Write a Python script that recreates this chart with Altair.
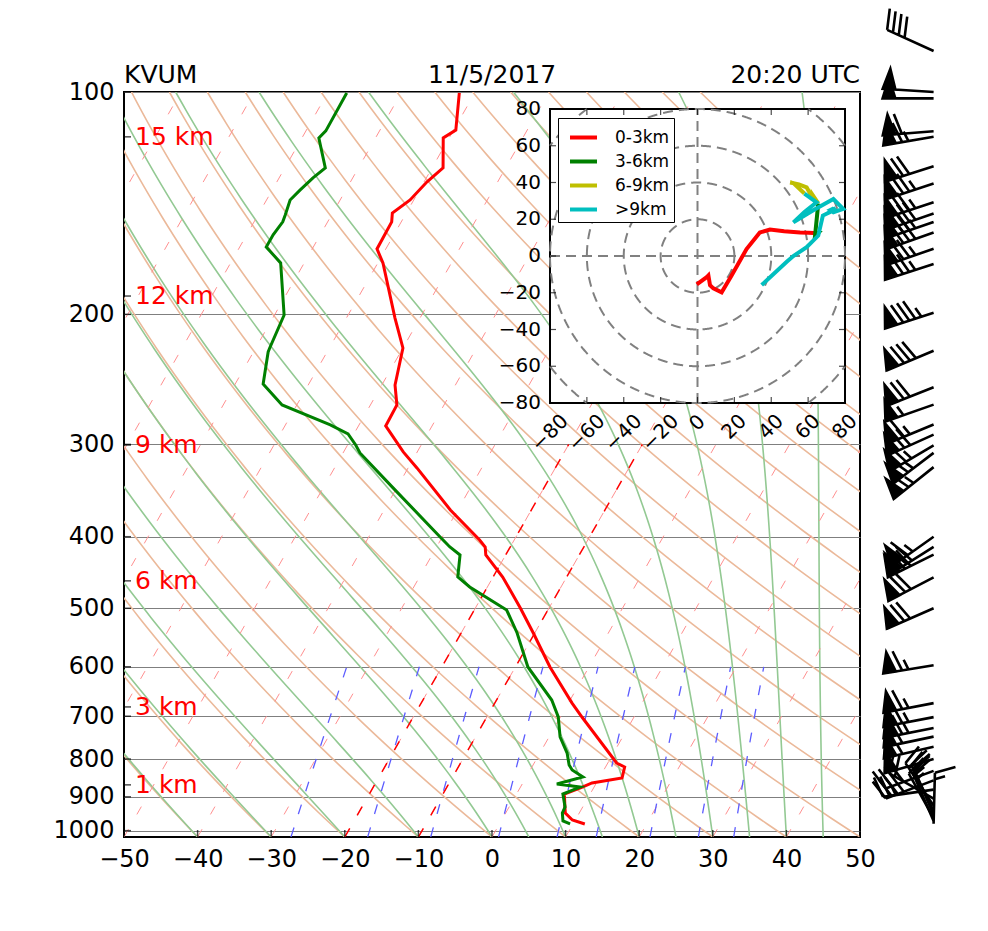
import math
import numpy as np
import pandas as pd
import altair as alt

# ---------------- data ----------------
STATION = "KVUM"
DATE = "11/5/2017"
TIME = "20:20 UTC"

# temperature profile (hPa, degC)
T_P = [979.4, 967.4, 946.5, 926.0, 892.0, 872.9, 861.9, 848.7, 820.1, 809.9, 703.9, 671.9,
       600.4, 540.0, 499.5, 453.5, 423.4, 413.0, 404.1, 368.0, 322.8, 307.1, 283.2, 265.3,
       249.3, 222.1, 202.3, 170.4, 163.1, 149.9, 145.8, 140.0, 132.3, 126.7, 115.4, 112.6, 100.3]
T_C = [11.6, 9.6, 8.1, 7.5, 6.5, 8.4, 9.4, 13.1, 12.6, 11.2, 3.1, 0.5,
       -5.3, -10.2, -13.9, -18.7, -22.7, -23.4, -24.7, -31.0, -38.8, -41.9, -46.3, -46.4,
       -48.2, -50.0, -53.4, -59.3, -61.2, -61.3, -61.9, -60.5, -59.6, -58.5, -60.8, -59.7, -62.1]

# dewpoint profile (hPa, degC)
TD_P = [979.4, 970.3, 946.5, 929.0, 892.0, 872.9, 864.6, 846.0, 827.8, 815.0, 785.1, 746.8,
        701.6, 665.5, 600.4, 540.0, 502.7, 467.9, 453.5, 423.4, 413.0, 400.3, 343.5, 308.1,
        300.5, 290.3, 282.3, 265.3, 248.5, 224.9, 222.1, 200.4, 170.4, 162.1, 156.1, 149.9,
        146.7, 140.0, 135.7, 130.7, 126.7, 115.4, 112.9, 100.3]
TD_C = [9.6, 8.4, 7.7, 7.6, 6.3, 8.1, 4.7, 7.7, 5.7, 4.9, 3.7, 1.5,
        -0.3, -2.5, -8.3, -12.4, -15.6, -22.4, -24.8, -26.2, -28.2, -30.3, -40.5, -47.7,
        -48.9, -50.8, -53.9, -62.0, -66.2, -68.0, -68.1, -68.7, -73.2, -76.4, -76.4, -76.1,
        -76.3, -76.8, -76.2, -75.4, -74.5, -77.7, -77.3, -77.4]

# winds (hPa, u knots, v knots)
WIND_P = [979, 970, 962, 952, 940, 925, 905, 880, 855, 830, 800, 770, 746, 726, 702, 672,
          597, 500, 454, 423, 413, 400, 322, 308, 301, 291, 282, 265, 251, 224, 199, 171,
          163, 155, 150, 146, 141, 133, 126, 115, 113, 102, 100, 88]
WIND_U = [-0.4, 5.0, 5.9, 6.8, 8.6, 13.1, 18.5, 26.6, 33.8, 39.3, 47.0, 55.6, 60.0, 63.0, 65.0, 65.5,
          63.7, 65.5, 62.7, 62.8, 59.2, 55.0, 50.2, 52.0, 58.0, 64.6, 58.0, 52.0, 63.0, 73.7, 79.0, 73.7,
          72.0, 74.0, 73.0, 75.0, 72.0, 70.0, 68.0, 65.5, 59.2, 52.0, 48.4, 34.8]
WIND_V = [-15.5, -11.5, -10.6, -15.9, -17.6, -19.8, -10.6, 3.8, 12.8, 14.4, 13.5, 12.8, 12.6, 12.5, 12.5, 12.5,
          10.5, 28.6, 32.8, 31.0, 37.3, 39.0, 40.0, 39.7, 34.0, 29.2, 24.0, 18.3, 25.0, 31.0, 25.6, 23.8,
          25.0, 26.0, 25.0, 26.0, 24.0, 23.0, 22.0, 11.1, 4.8, 0.0, -3.1, -15.8]

# height labels
KM_LABELS = ["1 km", "3 km", "6 km", "9 km", "12 km", "15 km"]
KM_P = [867.0, 680.0, 459.0, 300.5, 188.9, 115.0]

# hodograph layers
SEG_NAMES = ["0-3km", "3-6km", "6-9km", ">9km"]
SEG_COLORS = ["#ff0000", "#008000", "#bfbf00", "#00bfbf"]
SEG_BOUND_P = [680.0, 459.0, 300.5]

# axes / reference lines
P_TICKS = [100, 200, 300, 400, 500, 600, 700, 800, 900, 1000]
X_TICKS = [-50, -40, -30, -20, -10, 0, 10, 20, 30, 40, 50]
HODO_TICKS = [-80, -60, -40, -20, 0, 20, 40, 60, 80]
HODO_RINGS = [20, 40, 60, 80, 100]
DRY_T0 = list(range(-50, 201, 10))
MOIST_T0 = [-50, -40, -30, -20, -10, 0, 5, 10, 15, 20, 25, 30, 35, 40, 45]
ISO_T = list(range(-100, 51, 10))
HILITE_T = [-20, -10]
HILITE_TOP_P = 300.0
MIX_W = [0.0004, 0.001, 0.002, 0.004, 0.007, 0.01, 0.016, 0.024, 0.032]
MIX_TOP_P = 600.0

PB, PT = 1020.0, 100.0
SK = 100 * math.tan(math.radians(30))
SKEW_EXPR = f"datum.T + {SK:.4f} * log({PB} / datum.p) / log({PB / PT})"

# ---------------- reference-line generation ----------------
ps = np.geomspace(PB, PT, 120)

def dry_curve(t0):
    return (t0 + 273.15) * (ps / PB) ** 0.2857 - 273.15

def moist_curve(t0):
    Rd, Cp, Lv, eps = 287.04, 1005.7, 2.501e6, 0.622
    def f(T, lnp):
        p = math.exp(lnp)
        es = 6.112 * math.exp(17.67 * (T - 273.15) / (T - 29.65))
        rs = eps * es / (p - es)
        return (Rd * T + Lv * rs) / (Cp + Lv * Lv * rs * eps / (Rd * T * T))
    lnp = np.log(ps)
    T = t0 + 273.15
    out = [T]
    for i in range(len(ps) - 1):
        h = lnp[i + 1] - lnp[i]
        k1 = f(T, lnp[i])
        k2 = f(T + h * k1 / 2, lnp[i] + h / 2)
        k3 = f(T + h * k2 / 2, lnp[i] + h / 2)
        k4 = f(T + h * k3, lnp[i] + h)
        T = T + h * (k1 + 2 * k2 + 2 * k3 + k4) / 6
        out.append(T)
    return np.array(out) - 273.15

rows = []
for j, t0 in enumerate(DRY_T0):
    for i, (p, t) in enumerate(zip(ps, dry_curve(t0))):
        rows.append({"id": j, "i": i, "p": p, "T": t})
dry_df = pd.DataFrame(rows)

rows = []
for j, t0 in enumerate(MOIST_T0):
    for i, (p, t) in enumerate(zip(ps, moist_curve(t0))):
        rows.append({"id": j, "i": i, "p": p, "T": t})
moist_df = pd.DataFrame(rows)

iso_df = pd.DataFrame([{"id": j, "i": i, "p": p, "T": t}
                       for j, t in enumerate(ISO_T) for i, p in enumerate([PB, PT])])
hil_df = pd.DataFrame([{"id": j, "i": i, "p": p, "T": t}
                       for j, t in enumerate(HILITE_T) for i, p in enumerate([PB, HILITE_TOP_P])])

mps = np.geomspace(PB, MIX_TOP_P, 30)
rows = []
for j, w in enumerate(MIX_W):
    e = mps * w / (0.622 + w)
    le = np.log(e / 6.112)
    td = 243.5 * le / (17.67 - le)
    for i, (p, t) in enumerate(zip(mps, td)):
        rows.append({"id": j, "i": i, "p": p, "T": t})
mix_df = pd.DataFrame(rows)

t_df = pd.DataFrame({"p": T_P, "T": T_C, "i": range(len(T_P))})
td_df = pd.DataFrame({"p": TD_P, "T": TD_C, "i": range(len(TD_P))})

# ---------------- wind barbs ----------------
def barb_path(speed):
    s = int(5 * round(speed / 5.0))
    nf, rem = divmod(s, 50)
    nb, rem = divmod(rem, 10)
    half = rem >= 5
    L, sp, h, w = 1.0, 0.125, 0.4, 0.25
    parts = [f"M0,0L0,{-L:.4f}"]
    off = L
    for _ in range(nf):
        if off != L:
            off += sp / 2
        parts.append(f"M0,{-off:.4f}L{h:.4f},{-(off - w / 2):.4f}L0,{-(off - w):.4f}Z")
        off -= w + sp
    for _ in range(nb):
        parts.append(f"M0,{-off:.4f}L{h:.4f},{-(off + w / 2):.4f}")
        off -= sp
    if half:
        if off == L:
            off -= 1.5 * sp
        parts.append(f"M0,{-off:.4f}L{h / 2:.4f},{-(off + w / 4):.4f}")
    return "".join(parts)

wind_df = pd.DataFrame({"p": WIND_P, "u": WIND_U, "v": WIND_V})
wind_df["spd"] = np.hypot(wind_df.u, wind_df.v)
wind_df["dir"] = np.degrees(np.arctan2(-wind_df.u, -wind_df.v)) % 360
wind_df["glyph"] = wind_df.spd.map(barb_path)

# ---------------- hodograph data ----------------
def seg_of(p):
    for k, b in enumerate(SEG_BOUND_P):
        if p >= b:
            return k
    return len(SEG_BOUND_P)

segs = [seg_of(p) for p in WIND_P]
rows = []
for i, (u, v, k) in enumerate(zip(WIND_U, WIND_V, segs)):
    rows.append({"u": u, "v": v, "seg": SEG_NAMES[k], "o": float(i)})
    if i + 1 < len(segs) and segs[i + 1] != k:
        rows.append({"u": u, "v": v, "seg": SEG_NAMES[segs[i + 1]], "o": i + 0.5})
hodo_df = pd.DataFrame(rows)

rows = []
th = np.linspace(0, 2 * np.pi, 2881)
for r in HODO_RINGS:
    uu, vv = r * np.cos(th), r * np.sin(th)
    inside = (np.abs(uu) <= 80) & (np.abs(vv) <= 80)
    gid = np.cumsum(np.concatenate([[0], (inside[1:] != inside[:-1]).astype(int)]))
    for i in range(len(th)):
        if inside[i]:
            rows.append({"g": f"{r}_{gid[i]}", "u": uu[i], "v": vv[i], "i": i})
ring_df = pd.DataFrame(rows)

# ---------------- scales / axes ----------------
xsc = alt.Scale(domain=[-50, 50], nice=False, zero=False)
ysc = alt.Scale(type="log", domain=[PB, PT], nice=False)
xax = alt.Axis(values=X_TICKS, title=None, grid=False, ticks=False, tickSize=0, domain=False,
               labelFontSize=24, labelPadding=10, labelColor="black", format="d",
               labelOverlap=False, labelFlush=False)
yax = alt.Axis(values=P_TICKS, title=None, grid=True, gridColor="#7f7f7f", gridWidth=1,
               gridOpacity=1, ticks=False, tickSize=0, domain=False, labelFontSize=24,
               labelPadding=10, labelColor="black", format="d",
               labelOverlap=False, labelFlush=False)

def X(field=None, datum=None):
    if datum is not None:
        return alt.X(datum=datum, scale=xsc, axis=xax)
    return alt.X(field, type="quantitative", scale=xsc, axis=xax)

def Y(field=None, datum=None):
    if datum is not None:
        return alt.Y(datum=datum, scale=ysc, axis=yax)
    return alt.Y(field, type="quantitative", scale=ysc, axis=yax)

def skew_lines(df, color, width, dash=None):
    kw = dict(clip=True, color=color, strokeWidth=width)
    if dash:
        kw["strokeDash"] = dash
    return alt.Chart(df).transform_calculate(xs=SKEW_EXPR).mark_line(**kw).encode(
        x=X("xs"), y=Y("p"), detail="id:N", order="i:Q")

dry = skew_lines(dry_df, "#ebb99a", 1.6)
moist = skew_lines(moist_df, "#93c993", 1.6)
iso = skew_lines(iso_df, "#ff9090", 1.0, [9, 17])
hil = skew_lines(hil_df, "#ff0000", 1.5, [10, 15])
mix = skew_lines(mix_df, "#5c5cff", 1.3, [10, 14])

t_line = alt.Chart(t_df).transform_calculate(xs=SKEW_EXPR).mark_line(
    clip=True, color="#ff0000", strokeWidth=3).encode(x=X("xs"), y=Y("p"), order="i:Q")
td_line = alt.Chart(td_df).transform_calculate(xs=SKEW_EXPR).mark_line(
    clip=True, color="#008000", strokeWidth=3).encode(x=X("xs"), y=Y("p"), order="i:Q")

km_df = pd.DataFrame({"p": KM_P, "label": KM_LABELS})
km_text = alt.Chart(km_df).mark_text(align="left", baseline="middle", fontSize=25,
                                     color="#ff0000").encode(
    x=X(datum=-48.5), y=Y("p"), text="label:N")

lt_df = pd.DataFrame({"p": P_TICKS + KM_P})
left_ticks = alt.Chart(lt_df).mark_tick(orient="horizontal", size=7, thickness=1.5,
                                        xOffset=3.5, color="black").encode(
    x=X(datum=-50), y=Y("p"))
bt_df = pd.DataFrame({"T": X_TICKS})
bottom_ticks = alt.Chart(bt_df).mark_tick(orient="vertical", size=7, thickness=1.5,
                                          yOffset=-3.5, color="black").encode(
    x=X("T"), y=Y(datum=PB))

title_l = alt.Chart(pd.DataFrame({"t": [STATION]})).mark_text(
    align="left", baseline="alphabetic", dy=-9, fontSize=25, color="black").encode(
    x=X(datum=-50), y=Y(datum=PT), text="t:N")
title_c = alt.Chart(pd.DataFrame({"t": [DATE]})).mark_text(
    align="center", baseline="alphabetic", dy=-9, fontSize=25, color="black").encode(
    x=X(datum=0), y=Y(datum=PT), text="t:N")
title_r = alt.Chart(pd.DataFrame({"t": [TIME]})).mark_text(
    align="right", baseline="alphabetic", dy=-9, fontSize=25, color="black").encode(
    x=X(datum=50), y=Y(datum=PT), text="t:N")

barbs = alt.Chart(wind_df).mark_point(filled=True, size=10404, color="black", fill="black",
                                      stroke="black", strokeWidth=2.6, opacity=1).encode(
    x=X(datum=60), y=Y("p"),
    shape=alt.Shape("glyph:N", scale=None),
    angle=alt.Angle("dir:Q", scale=None))

main = alt.layer(dry, moist, iso, mix, hil, t_line, td_line, km_text, left_ticks,
                 bottom_ticks, title_l, title_c, title_r, barbs)

# ---------------- hodograph inset ----------------
hx = alt.Scale(domain=[-80, 80], range=[426, 721], nice=False, zero=False)
hy = alt.Scale(domain=[-80, 80], range=[311, 17], nice=False, zero=False)

def HX(field=None, datum=None):
    if datum is not None:
        return alt.X(datum=datum, scale=hx, axis=None)
    return alt.X(field, type="quantitative", scale=hx, axis=None)

def HY(field=None, datum=None):
    if datum is not None:
        return alt.Y(datum=datum, scale=hy, axis=None)
    return alt.Y(field, type="quantitative", scale=hy, axis=None)

frame = alt.Chart(pd.DataFrame({"a": [0]})).mark_rect(
    fill="white", stroke="black", strokeWidth=2).encode(
    x=HX(datum=-80), x2=alt.X2(datum=80), y=HY(datum=-80), y2=alt.Y2(datum=80))

rings = alt.Chart(ring_df).mark_line(color="#808080", strokeWidth=2, strokeDash=[10, 6]).encode(
    x=HX("u"), y=HY("v"), detail="g:N", order="i:Q")

cross_v = alt.Chart(pd.DataFrame({"a": [0]})).mark_rule(
    color="#808080", strokeWidth=2, strokeDash=[10, 6]).encode(
    x=HX(datum=0), y=HY(datum=-80), y2=alt.Y2(datum=80))
cross_h = alt.Chart(pd.DataFrame({"a": [0]})).mark_rule(
    color="#808080", strokeWidth=2, strokeDash=[10, 6]).encode(
    y=HY(datum=0), x=HX(datum=-80), x2=alt.X2(datum=80))

hodo = alt.Chart(hodo_df).mark_line(strokeWidth=4).encode(
    x=HX("u"), y=HY("v"), order="o:Q",
    color=alt.Color("seg:N", scale=alt.Scale(domain=SEG_NAMES, range=SEG_COLORS),
                    legend=alt.Legend(orient="none", legendX=434, legendY=26, title=None,
                                      fillColor="white", strokeColor="black", padding=4,
                                      labelFontSize=17, labelColor="black",
                                      symbolType="stroke", symbolStrokeWidth=4,
                                      symbolSize=729, rowPadding=0, labelOffset=16,
                                      symbolOffset=6)))

inner = [t for t in HODO_TICKS if abs(t) < 80]
tk = pd.DataFrame({"t": inner})
tick_l = alt.Chart(tk).mark_tick(orient="horizontal", size=6, thickness=1.2, xOffset=3,
                                 color="black").encode(x=HX(datum=-80), y=HY("t"))
tick_r = alt.Chart(tk).mark_tick(orient="horizontal", size=6, thickness=1.2, xOffset=-3,
                                 color="black").encode(x=HX(datum=80), y=HY("t"))
tick_b = alt.Chart(tk).mark_tick(orient="vertical", size=6, thickness=1.2, yOffset=-3,
                                 color="black").encode(x=HX("t"), y=HY(datum=-80))
tick_t = alt.Chart(tk).mark_tick(orient="vertical", size=6, thickness=1.2, yOffset=3,
                                 color="black").encode(x=HX("t"), y=HY(datum=80))

lab = pd.DataFrame({"t": HODO_TICKS,
                    "s": [str(t).replace("-", "\u2212") for t in HODO_TICKS]})
ylab = alt.Chart(lab).mark_text(align="right", baseline="middle", dx=-9, fontSize=20,
                                color="black").encode(x=HX(datum=-80), y=HY("t"), text="s:N")
xlabs = []
for n, rad in [(1, 20), (2, 24), (3, 30)]:
    sub = lab[lab.s.str.len() == n]
    xlabs.append(alt.Chart(sub).mark_text(align="center", baseline="middle", angle=315,
                                          theta=math.pi, radius=rad, fontSize=20,
                                          color="black").encode(
        x=HX("t"), y=HY(datum=-80), text="s:N"))

inset = alt.layer(frame, rings, cross_v, cross_h, hodo, tick_l, tick_r, tick_b, tick_t,
                  ylab, *xlabs)

chart = alt.layer(main, inset).resolve_scale(x="independent", y="independent").properties(
    width=736, height=745,
    autosize=alt.AutoSizeParams(type="none"),
    padding={"left": 124, "top": 92, "right": 128, "bottom": 94},
).configure(font="DejaVu Sans").configure_view(stroke="black", strokeWidth=2)

chart.save("out.html", embed_options={"renderer": "svg", "actions": False})
